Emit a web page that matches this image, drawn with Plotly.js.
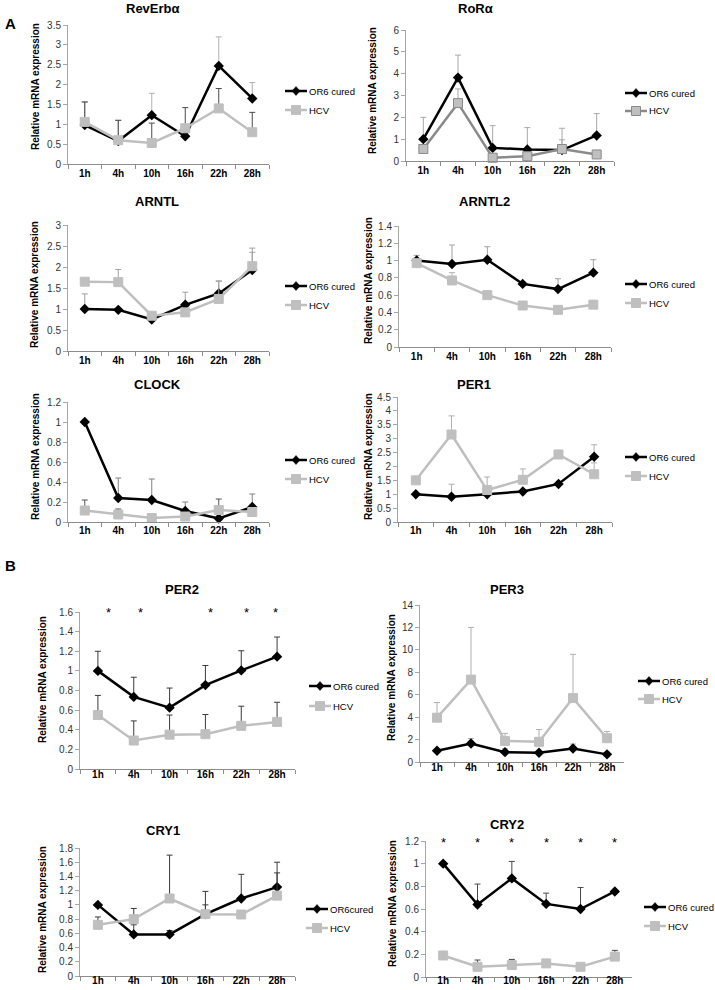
<!DOCTYPE html>
<html>
<head>
<meta charset="utf-8">
<script src="https://cdn.plot.ly/plotly-3.0.1.min.js"></script>
<style>html,body{margin:0;padding:0;background:#fff;}#chart{width:715px;height:990px;}</style>
</head>
<body>
<div id="chart"></div>
<script>
// ---------- DATA ----------
const timepoints = ['1h', '4h', '10h', '16h', '22h', '28h'];
const seriesNames = ['OR6 cured', 'HCV'];
const seriesNamesCry1 = ['OR6cured', 'HCV'];

const revOR6 = [0.98, 0.58, 1.23, 0.70, 2.47, 1.65];
const revOR6Err = [0.59, 0.52, 0.55, 0.00, 0.73, 0.40];
const revHCV = [1.06, 0.60, 0.53, 0.90, 1.40, 0.80];
const revHCVErr = [0.50, 0.50, 0.50, 0.52, 0.50, 0.50];

const rorOR6 = [1.00, 3.82, 0.60, 0.53, 0.50, 1.17];
const rorOR6Err = [1.00, 1.03, 1.02, 1.00, 1.00, 1.00];
const rorHCV = [0.55, 2.65, 0.15, 0.22, 0.55, 0.30];
const rorHCVErr = [0.00, 0.65, 0.00, 0.00, 0.42, 0.00];

const arntlOR6 = [1.00, 0.98, 0.75, 1.10, 1.37, 1.93];
const arntlOR6Err = [0.36, 0.00, 0.00, 0.30, 0.30, 0.42];
const arntlHCV = [1.65, 1.64, 0.84, 0.92, 1.24, 2.02];
const arntlHCVErr = [0.00, 0.30, 0.00, 0.00, 0.42, 0.43];

const arntl2OR6 = [1.00, 0.96, 1.01, 0.73, 0.67, 0.86];
const arntl2OR6Err = [0.06, 0.22, 0.15, 0.02, 0.12, 0.15];
const arntl2HCV = [0.97, 0.77, 0.60, 0.48, 0.43, 0.49];
const arntl2HCVErr = [0.03, 0.09, 0.05, 0.02, 0.02, 0.02];

const clockOR6 = [1.00, 0.24, 0.22, 0.11, 0.035, 0.15];
const clockOR6Err = [0.00, 0.20, 0.21, 0.09, 0.00, 0.13];
const clockHCV = [0.115, 0.075, 0.04, 0.055, 0.12, 0.10];
const clockHCVErr = [0.105, 0.055, 0.00, 0.00, 0.11, 0.00];

const per1OR6 = [1.00, 0.91, 1.00, 1.10, 1.37, 2.35];
const per1OR6Err = [0.00, 0.45, 0.00, 0.00, 0.00, 0.43];
const per1HCV = [1.50, 3.15, 1.15, 1.52, 2.43, 1.72];
const per1HCVErr = [0.00, 0.67, 0.47, 0.39, 0.15, 0.41];

const per2OR6 = [1.00, 0.735, 0.625, 0.855, 1.005, 1.145];
const per2OR6Err = [0.20, 0.20, 0.20, 0.20, 0.20, 0.20];
const per2HCV = [0.55, 0.29, 0.35, 0.355, 0.44, 0.48];
const per2HCVErr = [0.20, 0.20, 0.20, 0.20, 0.20, 0.20];
const per2Stars = [0.3, 1.2, 3.15, 4.15, 4.95];

const per3OR6 = [1.00, 1.65, 0.88, 0.82, 1.20, 0.68];
const per3OR6Err = [0.00, 0.45, 0.30, 0.00, 0.40, 0.00];
const per3HCV = [3.95, 7.35, 1.88, 1.80, 5.70, 2.12];
const per3HCVErr = [1.35, 4.65, 0.67, 1.10, 3.90, 0.60];

const cry1OR6 = [1.00, 0.585, 0.585, 0.87, 1.09, 1.25];
const cry1OR6Err = [0.00, 0.135, 0.055, 0.13, 0.34, 0.35];
const cry1HCV = [0.72, 0.80, 1.09, 0.87, 0.865, 1.13];
const cry1HCVErr = [0.11, 0.15, 0.61, 0.32, 0.00, 0.32];

const cry2OR6 = [1.00, 0.64, 0.87, 0.645, 0.60, 0.755];
const cry2OR6Err = [0.00, 0.18, 0.15, 0.095, 0.19, 0.00];
const cry2HCV = [0.19, 0.09, 0.105, 0.12, 0.09, 0.18];
const cry2HCVErr = [0.03, 0.06, 0.05, 0.01, 0.01, 0.055];
const cry2Stars = [0, 1, 2, 3, 4, 5];

// ---------- LAYOUT (pixel boxes) ----------
const W = 715, H = 990;
const px = v => v / W;
const py = v => 1 - v / H;

const panels = [
  {title: 'RevErbα', or6: revOR6, or6e: revOR6Err, hcv: revHCV, hcve: revHCVErr, ymax: 3.5, dtick: 0.5,
   box: [68, 269, 25, 164], tpos: [153, 9], ytpos: [35, 87], leg: [285, 91, 110], e1: '#b0b0b0', e2: '#4a4a4a', names: seriesNames, so: 0},
  {title: 'RoRα', or6: rorOR6, or6e: rorOR6Err, hcv: rorHCV, hcve: rorHCVErr, ymax: 6, dtick: 1,
   box: [406, 614, 30, 161], tpos: [475, 8], ytpos: [372, 91], leg: [625, 93, 111], e1: '#a8a8a8', e2: '#a8a8a8', names: seriesNames, dark: true, so: 0},
  {title: 'ARNTL', or6: arntlOR6, or6e: arntlOR6Err, hcv: arntlHCV, hcve: arntlHCVErr, ymax: 3, dtick: 0.5,
   box: [68, 269, 225, 351], tpos: [157, 202], ytpos: [35, 285], leg: [285, 286, 305], e1: '#a0a0a0', e2: '#a0a0a0', names: seriesNames, so: 0},
  {title: 'ARNTL2', or6: arntl2OR6, or6e: arntl2OR6Err, hcv: arntl2HCV, hcve: arntl2HCVErr, ymax: 1.4, dtick: 0.2,
   box: [399, 611, 226, 347], tpos: [484, 202], ytpos: [368, 280], leg: [625, 284, 303], e1: '#a0a0a0', e2: '#b0b0b0', names: seriesNames, so: 0},
  {title: 'CLOCK', or6: clockOR6, or6e: clockOR6Err, hcv: clockHCV, hcve: clockHCVErr, ymax: 1.2, dtick: 0.2,
   box: [68, 269, 402, 522], tpos: [157, 385], ytpos: [35, 457], leg: [285, 460, 479], e1: '#808080', e2: '#555555', names: seriesNames, so: -1},
  {title: 'PER1', or6: per1OR6, or6e: per1OR6Err, hcv: per1HCV, hcve: per1HCVErr, ymax: 4.5, dtick: 0.5,
   box: [398, 612, 397, 522], tpos: [474, 385], ytpos: [368, 456], leg: [625, 457, 476], e1: '#b0b0b0', e2: '#b0b0b0', names: seriesNames, so: -1},
  {title: 'PER2', or6: per2OR6, or6e: per2OR6Err, hcv: per2HCV, hcve: per2HCVErr, ymax: 1.6, dtick: 0.2,
   box: [80, 295, 612, 769], tpos: [182, 589], ytpos: [42, 680], leg: [309, 686, 706], e1: '#3a3a3a', e2: '#3a3a3a', names: seriesNames, stars: per2Stars, so: -4},
  {title: 'PER3', or6: per3OR6, or6e: per3OR6Err, hcv: per3HCV, hcve: per3HCVErr, ymax: 14, dtick: 2,
   box: [420, 624, 605, 762], tpos: [507, 589], ytpos: [391, 678], leg: [638, 681, 699], e1: '#b0b0b0', e2: '#b0b0b0', names: seriesNames, so: -4},
  {title: 'CRY1', or6: cry1OR6, or6e: cry1OR6Err, hcv: cry1HCV, hcve: cry1HCVErr, ymax: 1.8, dtick: 0.2,
   box: [80, 295, 848, 976], tpos: [163, 830], ytpos: [42, 910], leg: [306, 909, 928], e1: '#3a3a3a', e2: '#3a3a3a', names: seriesNamesCry1, so: -5},
  {title: 'CRY2', or6: cry2OR6, or6e: cry2OR6Err, hcv: cry2HCV, hcve: cry2HCVErr, ymax: 1.2, dtick: 0.2,
   box: [426, 632, 841, 977], tpos: [507, 824], ytpos: [392, 904], leg: [644, 907, 926], e1: '#4a4a4a', e2: '#4a4a4a', names: seriesNames, stars: cry2Stars, so: -6}
];

const FONT = 'Liberation Sans, Arial, sans-serif';
const traces = [];
const layout = {
  width: W, height: H, margin: {l: 0, r: 0, t: 0, b: 0},
  paper_bgcolor: '#fff', plot_bgcolor: 'rgba(0,0,0,0)',
  showlegend: false, annotations: [], shapes: [], font: {family: FONT, color: '#000'}
};

function legendItem(x, y, kind, label, lineColor, fill, edge) {
  layout.shapes.push({type: 'line', xref: 'paper', yref: 'paper', x0: px(x), x1: px(x + 22), y0: py(y), y1: py(y),
    line: {color: lineColor, width: 2.5}});
  const cx = x + 11;
  if (kind === 'diamond') {
    layout.shapes.push({type: 'path', xref: 'paper', yref: 'paper',
      path: `M ${px(cx)},${py(y - 4.5)} L ${px(cx + 4)},${py(y)} L ${px(cx)},${py(y + 4.5)} L ${px(cx - 4)},${py(y)} Z`,
      fillcolor: fill, line: {color: fill, width: 0.5}});
  } else {
    layout.shapes.push({type: 'rect', xref: 'paper', yref: 'paper',
      x0: px(cx - 4.5), x1: px(cx + 4.5), y0: py(y + 4.5), y1: py(y - 4.5),
      fillcolor: fill, line: {color: edge, width: 1}});
  }
  layout.annotations.push({text: label, xref: 'paper', yref: 'paper', x: px(x + 21.5), y: py(y),
    xanchor: 'left', yanchor: 'middle', showarrow: false, font: {family: FONT, size: 9.5, color: '#000'}});
}

panels.forEach((p, i) => {
  const n = i + 1;
  const xa = n === 1 ? 'x' : 'x' + n;
  const ya = n === 1 ? 'y' : 'y' + n;
  const zeros = timepoints.map(() => 0);
  const hcvLine = p.dark ? '#8a8a8a' : '#bfbfbf';
  const hcvEdge = p.dark ? '#8a8a8a' : '#bfbfbf';
  traces.push({
    type: 'scatter', mode: 'lines+markers', x: timepoints, y: p.or6, name: p.names[0],
    xaxis: xa, yaxis: ya,
    line: {color: '#000', width: 2.5},
    marker: {symbol: 'diamond', size: 8, color: '#000'},
    error_y: {type: 'data', symmetric: false, array: p.or6e, arrayminus: zeros, color: p.e1, thickness: 1, width: 3},
    cliponaxis: false
  });
  traces.push({
    type: 'scatter', mode: 'lines+markers', x: timepoints, y: p.hcv, name: p.names[1],
    xaxis: xa, yaxis: ya,
    line: {color: hcvLine, width: 2.5},
    marker: {symbol: 'square', size: 9, color: '#bfbfbf', line: {color: hcvEdge, width: 1}},
    error_y: {type: 'data', symmetric: false, array: p.hcve, arrayminus: zeros, color: p.e2, thickness: 1, width: 3},
    cliponaxis: false
  });
  const [x0, x1, yt, yb] = p.box;
  layout['xaxis' + (n === 1 ? '' : n)] = {
    domain: [px(x0), px(x1)], anchor: ya, type: 'category', range: [-0.5, 5.5],
    tickson: 'boundaries', ticks: 'outside', ticklen: 4, tickcolor: '#8c8c8c',
    showline: true, linecolor: '#8c8c8c', linewidth: 1, showgrid: false, zeroline: false,
    ticklabelstandoff: p.so,
    tickfont: {family: FONT, size: 10, color: '#000', weight: 'bold'}, fixedrange: true
  };
  layout['yaxis' + (n === 1 ? '' : n)] = {
    domain: [py(yb), py(yt)], anchor: xa, range: [0, p.ymax], dtick: p.dtick, tick0: 0,
    ticks: 'outside', ticklen: 4, tickcolor: '#a6a6a6', showline: true, linecolor: '#a6a6a6', linewidth: 1,
    showgrid: false, zeroline: false, tickfont: {family: FONT, size: 10, color: '#333'}, fixedrange: true
  };
  legendItem(p.leg[0], p.leg[1], 'diamond', p.names[0], '#000', '#000', '#000');
  legendItem(p.leg[0], p.leg[2], 'square', p.names[1], hcvLine, '#bfbfbf', hcvEdge);
  layout.annotations.push({
    text: p.title, xref: 'paper', yref: 'paper', x: px(p.tpos[0]), y: py(p.tpos[1]),
    xanchor: 'center', yanchor: 'middle', showarrow: false,
    font: {family: FONT, size: 13, color: '#000', weight: 'bold'}
  });
  layout.annotations.push({
    text: 'Relative mRNA expression', xref: 'paper', yref: 'paper', x: px(p.ytpos[0]), y: py(p.ytpos[1]),
    xanchor: 'center', yanchor: 'middle', textangle: -90, showarrow: false,
    font: {family: FONT, size: 10, color: '#000', weight: 'bold'}
  });
  if (p.stars) {
    p.stars.forEach(s => {
      layout.annotations.push({
        text: '*', xref: xa, yref: ya, x: s, y: p.ymax * (n === 7 ? 1.0 : 0.99),
        xanchor: 'center', yanchor: 'middle', showarrow: false,
        font: {family: FONT, size: 13, color: '#000'}
      });
    });
  }
});

layout.annotations.push({text: 'A', xref: 'paper', yref: 'paper', x: px(10), y: py(23), xanchor: 'center', yanchor: 'middle', showarrow: false, font: {family: FONT, size: 15, weight: 'bold'}});
layout.annotations.push({text: 'B', xref: 'paper', yref: 'paper', x: px(10), y: py(565), xanchor: 'center', yanchor: 'middle', showarrow: false, font: {family: FONT, size: 15, weight: 'bold'}});

Plotly.newPlot('chart', traces, layout, {staticPlot: true, displayModeBar: false});
</script>
</body>
</html>
